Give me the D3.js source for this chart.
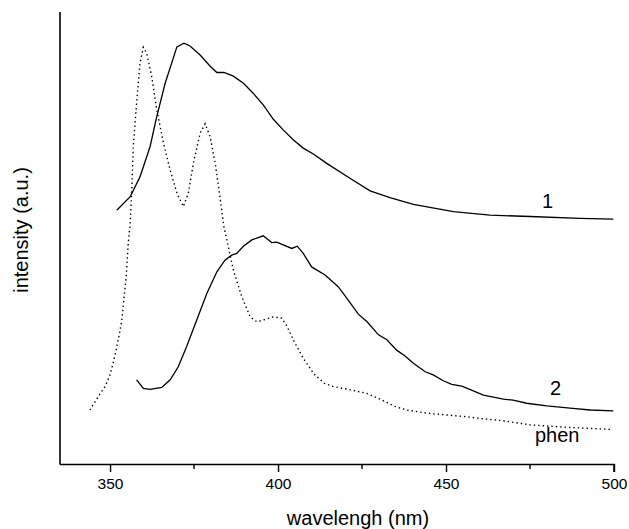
<!DOCTYPE html>
<html>
<head>
<meta charset="utf-8">
<script src="https://cdn.jsdelivr.net/npm/d3@7"></script>
<style>
  body { margin: 0; background: #fff; }
  text { font-family: "Liberation Sans", Arial, sans-serif; fill: #000; }
</style>
</head>
<body>
<svg id="chart"></svg>
<script>
// wavelength (nm) and intensity (a.u.)
const wl1 = [352.0, 356.0, 358.9, 361.9, 363.9, 366.4, 369.9, 372.0, 373.8, 376.8, 379.8, 381.8, 383.9, 386.7, 389.7, 392.6, 395.6, 398.6, 401.6, 404.6, 407.5, 410.5, 414.5, 421.4, 427.4, 433.3, 440.3, 452.2, 463.1, 475.0, 489.9, 499.8];
const int1 = [56.4, 59.4, 63.8, 70.5, 77.2, 84.6, 92.7, 93.5, 92.9, 90.9, 88.4, 87.0, 87.0, 86.2, 84.6, 82.4, 79.8, 76.6, 74.2, 72.0, 70.2, 68.9, 66.8, 63.5, 60.7, 59.2, 57.7, 56.1, 55.3, 55.0, 54.6, 54.4];

const wl2 = [357.9, 359.9, 361.9, 365.4, 367.9, 370.3, 372.8, 375.8, 378.8, 381.8, 384.2, 386.2, 387.7, 389.7, 392.2, 395.6, 398.1, 399.6, 404.1, 405.7, 407.5, 410.0, 414.0, 417.9, 420.5, 423.9, 426.5, 429.9, 432.4, 435.3, 437.8, 440.3, 443.8, 446.2, 449.2, 451.7, 454.7, 457.6, 461.1, 467.1, 470.0, 474.0, 480.0, 486.9, 492.9, 499.8];
const int2 = [18.7, 16.8, 16.6, 17.0, 18.7, 21.6, 26.1, 32.0, 37.9, 42.7, 45.3, 46.4, 46.8, 48.4, 49.8, 50.7, 49.2, 49.3, 47.9, 48.4, 46.8, 43.8, 42.0, 39.4, 36.8, 33.3, 31.6, 28.7, 27.6, 25.3, 24.0, 22.4, 20.5, 19.8, 18.5, 17.7, 17.3, 16.4, 15.3, 14.4, 14.2, 13.5, 12.9, 12.4, 12.0, 11.8];

const wlPhen = [344.0, 346.5, 348.5, 350.0, 351.0, 351.8, 352.8, 353.5, 354.0, 354.8, 355.4, 356.0, 356.5, 356.9, 357.9, 358.9, 359.9, 360.9, 362.4, 363.9, 365.9, 367.9, 369.9, 371.8, 373.3, 374.8, 376.8, 378.3, 379.8, 381.3, 382.7, 383.9, 385.2, 386.7, 389.2, 391.7, 393.7, 395.6, 398.6, 401.1, 402.6, 404.8, 407.5, 410.7, 413.8, 416.5, 420.8, 426.4, 430.4, 434.8, 438.3, 444.3, 450.2, 456.2, 459.1, 467.1, 475.0, 484.9, 498.8];
const intPhen = [12.0, 15.0, 17.2, 19.8, 22.7, 25.3, 29.0, 32.0, 35.7, 41.6, 49.0, 53.5, 61.6, 70.5, 80.2, 89.0, 92.6, 91.3, 86.1, 78.7, 71.3, 65.3, 60.2, 57.2, 60.2, 66.8, 73.5, 75.6, 72.7, 66.8, 59.4, 52.7, 48.3, 43.1, 37.2, 32.7, 31.6, 32.0, 32.7, 32.4, 30.7, 27.2, 23.5, 20.0, 17.9, 17.2, 16.6, 15.7, 14.4, 12.8, 12.0, 11.3, 10.9, 10.5, 10.2, 9.6, 8.7, 8.2, 7.7];

const majorTicks = [350, 400, 450, 500];
const minorTicks = [375, 425, 475];

const labels = [
    { text: "1", x: 480.2, y: 56.8 },
    { text: "2", x: 482.6, y: 15.3 },
    { text: "phen", x: 483.1, y: 4.8 }
];

const width = 629, height = 529;
const margin = { top: 12, right: 15, bottom: 65, left: 60 };

const svg = d3.select("#chart")
    .attr("width", width)
    .attr("height", height);

const x = d3.scaleLinear()
    .domain([335.1, 500])
    .range([margin.left, width - margin.right]);

const y = d3.scaleLinear()
    .domain([0, 100])
    .range([height - margin.bottom, height - margin.bottom - 450]);

const plotBottom = height - margin.bottom;

// axes
const xAxis = svg.append("g")
    .attr("transform", `translate(0,${plotBottom})`)
    .call(d3.axisBottom(x).tickValues(majorTicks).tickSize(8).tickPadding(6).tickFormat(d3.format("d")));
xAxis.select(".domain").attr("stroke-width", 1.6).attr("d", `M${x.range()[0]},0.5H${x.range()[1]}V8`);
xAxis.selectAll(".tick line").attr("stroke-width", 1.4);
xAxis.selectAll(".tick text").attr("font-size", 15.5).style("font-family", "Liberation Sans, Arial, sans-serif");

svg.append("g")
    .attr("transform", `translate(0,${plotBottom})`)
    .selectAll("line")
    .data(minorTicks)
    .enter().append("line")
    .attr("x1", d => x(d)).attr("x2", d => x(d))
    .attr("y1", 0).attr("y2", 5)
    .attr("stroke", "#000").attr("stroke-width", 1.4);

svg.append("line")
    .attr("x1", margin.left).attr("x2", margin.left)
    .attr("y1", margin.top).attr("y2", plotBottom + 0.5)
    .attr("stroke", "#000").attr("stroke-width", 1.6);

// curves
const line = d3.line()
    .x(d => x(d[0]))
    .y(d => y(d[1]));

const series = [
    { wl: wl1, val: int1, dash: null, w: 1.3 },
    { wl: wl2, val: int2, dash: null, w: 1.3 },
    { wl: wlPhen, val: intPhen, dash: "1.4,3", w: 1.4 }
];

svg.append("g")
    .selectAll("path")
    .data(series)
    .enter().append("path")
    .attr("d", s => line(d3.zip(s.wl, s.val)))
    .attr("fill", "none")
    .attr("stroke", "#000")
    .attr("stroke-width", s => s.w)
    .attr("stroke-dasharray", s => s.dash);

svg.append("g")
    .selectAll("text")
    .data(labels)
    .enter().append("text")
    .attr("x", d => x(d.x))
    .attr("y", d => y(d.y))
    .attr("text-anchor", "middle")
    .attr("font-size", 20)
    .text(d => d.text);

// axis titles
svg.append("text")
    .attr("x", 358)
    .attr("y", 525)
    .attr("text-anchor", "middle")
    .attr("font-size", 20)
    .text("wavelengh (nm)");

svg.append("text")
    .attr("transform", `translate(28,230) rotate(-90)`)
    .attr("text-anchor", "middle")
    .attr("font-size", 20)
    .text("intensity (a.u.)");
</script>
</body>
</html>
